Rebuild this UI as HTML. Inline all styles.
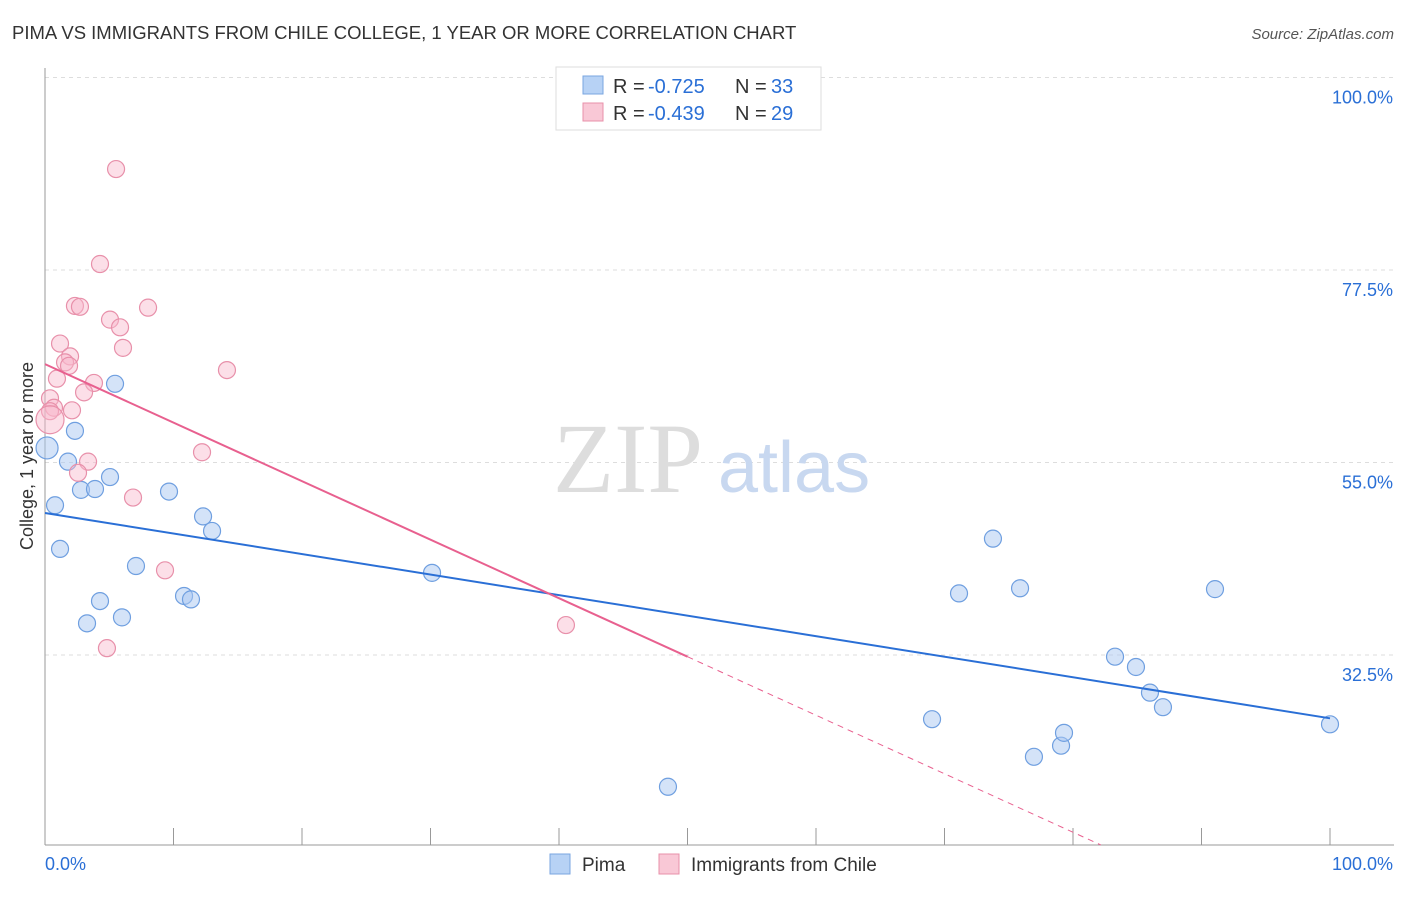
<!DOCTYPE html>
<html><head><meta charset="utf-8">
<style>
body{margin:0;background:#fff;font-family:"Liberation Sans",sans-serif;}
svg text{font-family:"Liberation Sans",sans-serif;}
</style></head>
<body>
<svg id="chart" width="1406" height="892" xmlns="http://www.w3.org/2000/svg">
<text x="12" y="39" font-size="18.5" fill="#333">PIMA VS IMMIGRANTS FROM CHILE COLLEGE, 1 YEAR OR MORE CORRELATION CHART</text>
<text x="1394" y="39" font-size="15" fill="#555" text-anchor="end" font-style="italic">Source: ZipAtlas.com</text>
<g id="grid"></g>
<text x="553" y="492" font-size="100" fill="#ddd" style="font-family:'Liberation Serif',serif">ZIP</text>
<text x="718" y="492" font-size="72" fill="#c8d8f0">atlas</text>
<g id="axes"></g>
<g id="marks"></g>
<text x="33" y="456" font-size="18" fill="#333" text-anchor="middle" transform="rotate(-90 33 456)">College, 1 year or more</text>
<g>
<rect x="556" y="67" width="265" height="63" fill="#fff" stroke="#ddd"/>
<rect x="583" y="76" width="20" height="18" fill="#b7d2f5" stroke="#7aa6e0"/>
<text x="613" y="93" font-size="20" fill="#333">R =</text>
<text x="648" y="93" font-size="20" fill="#2a6fd6">-0.725</text>
<text x="735" y="93" font-size="20" fill="#333">N =</text>
<text x="771" y="93" font-size="20" fill="#2a6fd6">33</text>
<rect x="583" y="103" width="20" height="18" fill="#f9c8d6" stroke="#e890aa"/>
<text x="613" y="120" font-size="20" fill="#333">R =</text>
<text x="648" y="120" font-size="20" fill="#2a6fd6">-0.439</text>
<text x="735" y="120" font-size="20" fill="#333">N =</text>
<text x="771" y="120" font-size="20" fill="#2a6fd6">29</text>
</g>
<g>
<rect x="550" y="854" width="20" height="20" fill="#b7d2f5" stroke="#7aa6e0"/>
<text x="582" y="871" font-size="19" fill="#333">Pima</text>
<rect x="659" y="854" width="20" height="20" fill="#f9c8d6" stroke="#e890aa"/>
<text x="691" y="871" font-size="19" fill="#333">Immigrants from Chile</text>
</g>
</svg>
<script>
const yTicks=[32.5,55.0,77.5,100.0];
const pimaX=[0.16,0.78,1.17,1.79,2.33,2.80,3.89,3.27,4.28,5.06,5.45,5.99,7.08,9.65,10.82,11.36,12.30,13.00,30.12,48.48,69.03,71.13,73.77,75.88,76.96,79.07,79.30,83.27,84.90,85.99,87.00,91.05,100];
const pimaY=[56.7,50.0,44.9,55.1,58.7,51.8,51.9,36.2,38.8,53.3,64.2,36.9,42.9,51.6,39.4,39.0,48.7,47.0,42.1,17.1,25.0,39.7,46.1,40.3,20.6,21.9,23.4,32.3,31.1,28.1,26.4,40.2,24.4];
const chileX=[5.53,4.28,2.33,2.72,8.02,5.06,5.84,1.17,6.07,1.95,1.56,1.87,0.93,14.16,3.81,3.04,0.39,0.70,0.39,2.10,0.39,3.35,2.57,6.85,12.22,9.34,4.82,40.54];
const chileY=[89.3,78.2,73.3,73.2,73.1,71.7,70.8,68.9,68.4,67.4,66.7,66.3,64.8,65.8,64.3,63.2,62.5,61.4,61.0,61.1,60.0,55.1,53.8,50.9,56.2,42.4,33.3,36.0];
const pimaTrend=[49.1,25.1];
const chileTrend=[66.5,-1.9];
const X0=45,X1=1330,YB=845;
function sx(v){return X0+(X1-X0)*v/100;}
function sy(v){return 77.5+(100-v)*192.5/22.5;}
const NS="http://www.w3.org/2000/svg";
function mk(t,a,p){const e=document.createElementNS(NS,t);for(const k in a)e.setAttribute(k,a[k]);p.appendChild(e);return e;}
const grid=document.getElementById('grid'),axes=document.getElementById('axes'),marks=document.getElementById('marks');
yTicks.forEach(t=>{
 const l=mk('line',{x1:45,x2:1394,y1:sy(t),y2:sy(t),stroke:'#ddd','stroke-dasharray':'4,4'},grid);
 
 
 const tx=mk('text',{x:1393,y:sy(t)+26,'font-size':18,fill:'#2a6fd6','text-anchor':'end'},axes);
 tx.textContent=t.toFixed(1)+'%';
 
 
});
let ax=mk('line',{x1:45,x2:45,y1:68,y2:YB,stroke:'#999'},axes);


ax=mk('line',{x1:45,x2:1394,y1:YB,y2:YB,stroke:'#999'},axes);


for(let i=0;i<=10;i++){
 const tk=mk('line',{x1:sx(i*10),x2:sx(i*10),y1:YB,y2:828,stroke:'#999'},axes);
 
 
}
let xl=mk('text',{x:45,y:870,'font-size':18,fill:'#2a6fd6'},axes);xl.textContent='0.0%';


xl=mk('text',{x:1393,y:870,'font-size':18,fill:'#2a6fd6','text-anchor':'end'},axes);xl.textContent='100.0%';


function dot(x,y,r,fill,stroke,name){
 const c=mk('circle',{cx:sx(x),cy:sy(y),r:r,fill:fill,stroke:stroke,'stroke-width':1.2},marks);
 
 
}
pimaX.forEach((x,i)=>dot(x,pimaY[i],i==0?11:8.5,'rgba(170,200,242,0.5)','#6f9fe0','pima-point'));
chileX.forEach((x,i)=>dot(x,chileY[i],i==20?14:8.5,'rgba(248,185,205,0.45)','#e890aa','chile-point'));
let ln=mk('line',{x1:sx(0),y1:sy(pimaTrend[0]),x2:sx(100),y2:sy(pimaTrend[1]),stroke:'#2a6fd6','stroke-width':2},marks);


const slope=(chileTrend[1]-chileTrend[0])/100;
const yEnd=10.3, xEnd=(yEnd-chileTrend[0])/slope;
ln=mk('line',{x1:sx(0),y1:sy(chileTrend[0]),x2:sx(50),y2:sy(chileTrend[0]+slope*50),stroke:'#e8608f','stroke-width':2},marks);


ln=mk('line',{x1:sx(50),y1:sy(chileTrend[0]+slope*50),x2:sx(xEnd),y2:sy(yEnd),stroke:'#e8608f','stroke-width':1,'stroke-dasharray':'6,5'},marks);


</script>
</body></html>
